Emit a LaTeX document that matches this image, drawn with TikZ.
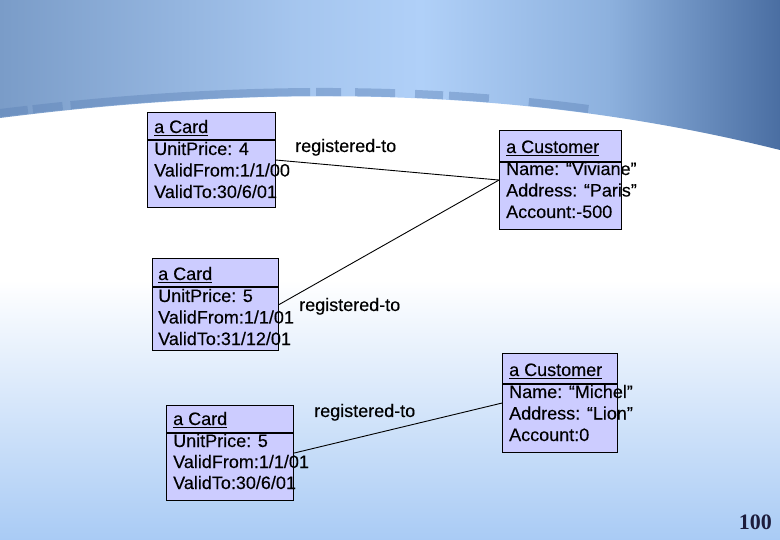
\documentclass[tikz,border=0pt]{standalone}
\usepackage{fontspec}
\setmainfont{Liberation Sans}
\newfontfamily\objfont{Liberation Sans}[FakeBold=0.25]
\newfontfamily\slidenumfont{Liberation Serif}
\usepackage{xcolor}
\usepackage{tikz}
\usetikzlibrary{positioning, calc}

\definecolor{objfill}{HTML}{CCCCFF}
\definecolor{bandleft}{HTML}{7A9CC8}
\definecolor{bandlight}{HTML}{B0D0F8}
\definecolor{bandmid}{HTML}{8DB1DE}
\definecolor{bandright}{HTML}{4A6EA2}
\definecolor{bandstripe}{HTML}{5F84B8}
\definecolor{bgbottom}{HTML}{A9CBF5}
\definecolor{numcol}{HTML}{1C1C3C}

\pgfdeclarehorizontalshading{slideband}{100bp}{color(0bp)=(bandleft); color(25bp)=(bandleft);
  color(44bp)=(bandlight!80!bandleft); color(52bp)=(bandlight); color(64bp)=(bandmid);
  color(75bp)=(bandright); color(100bp)=(bandright)}

\begin{document}
\begin{tikzpicture}[x=1pt, y=-1pt,
  objbox/.style={draw=black, line width=1.1pt, fill=objfill, anchor=north west, inner sep=0pt},
  objtext/.style={anchor=base west, inner sep=0pt, font=\objfont\fontsize{18}{21.5}\selectfont},
  link/.style={draw=black, line width=0.9pt}]
  \useasboundingbox (0,0) rectangle (780,540);

  % Slide background
  \fill[white] (0,0) rectangle (780,540);
  \shade[top color=white, bottom color=bgbottom] (0,280) rectangle (780,540);
  \shade[shading=slideband]
    (0,0) -- (780,0) -- (780,150) .. controls (520,85) and (260,85) .. (0,118) -- cycle;
  \draw[bandstripe, opacity=0.45, line width=8pt,
        dash pattern=on 28pt off 5pt on 30pt off 8pt on 240pt off 6pt on 25pt off 14pt on 40pt off 20pt on 28pt off 6pt on 40pt off 40pt on 60pt off 200pt]
    (0,113) .. controls (260,81) and (520,81) .. (780,145);

  % Cards (left)
  \node[objbox, minimum width=128pt, minimum height=95pt] (card1) at (147,112) {};
  \draw[line width=1.1pt] (card1.west |- 0,140) -- (card1.east |- 0,140);
  \node[objtext] (card1-h) at (154,133) {a Card};
  \foreach \lbl [count=\i] in {{UnitPrice: 4}, {ValidFrom:1/1/00}, {ValidTo:30/6/01}}
    \node[objtext] (card1-\i) at (154,133.5+21.5*\i) {\lbl};

  \node[objbox, minimum width=126pt, minimum height=92pt] (card2) at (152,258) {};
  \draw[line width=1.1pt] (card2.west |- 0,287) -- (card2.east |- 0,287);
  \node[objtext] (card2-h) at (158,280) {a Card};
  \foreach \lbl [count=\i] in {{UnitPrice: 5}, {ValidFrom:1/1/01}, {ValidTo:31/12/01}}
    \node[objtext] (card2-\i) at (158,280.5+21.5*\i) {\lbl};

  \node[objbox, minimum width=127pt, minimum height=95pt] (card3) at (166,405) {};
  \draw[line width=1.1pt] (card3.west |- 0,433) -- (card3.east |- 0,433);
  \node[objtext] (card3-h) at (173,425) {a Card};
  \foreach \lbl [count=\i] in {{UnitPrice: 5}, {ValidFrom:1/1/01}, {ValidTo:30/6/01}}
    \node[objtext] (card3-\i) at (173,426+21*\i) {\lbl};

  % Customers (right)
  \node[objbox, minimum width=122pt, minimum height=99pt] (cust1) at (499,130) {};
  \draw[line width=1.1pt] (cust1.west |- 0,162) -- (cust1.east |- 0,162);
  \node[objtext] (cust1-h) at (506,153) {a Customer};
  \foreach \lbl [count=\i] in {{Name: “Viviane”}, {Address: “Paris”}, {Account:-500}}
    \node[objtext] (cust1-\i) at (506,153.5+21.5*\i) {\lbl};

  \node[objbox, minimum width=115pt, minimum height=99pt] (cust2) at (502,353) {};
  \draw[line width=1.1pt] (cust2.west |- 0,384) -- (cust2.east |- 0,384);
  \node[objtext] (cust2-h) at (509,376) {a Customer};
  \foreach \lbl [count=\i] in {{Name: “Michel”}, {Address: “Lion”}, {Account:0}}
    \node[objtext] (cust2-\i) at (509,376.5+21.5*\i) {\lbl};

  % underlined object names
  \foreach \n in {card1,card2,card3,cust1,cust2}
    \draw[line width=1.2pt] ([yshift=-2.5pt]\n-h.base west) -- ([yshift=-2.5pt]\n-h.base east);

  % Links
  \draw[link] (card1.east) -- (cust1.west);
  \draw[link] (card2.east) -- (cust1.west);
  \draw[link] (card3.east) -- (cust2.west);

  \node[objtext] (reg1) at (295,152) {registered-to};
  \node[objtext] (reg2) at (299,311) {registered-to};
  \node[objtext] (reg3) at (314,417) {registered-to};

  % slide number
  \node[anchor=base east, inner sep=0pt, text=numcol,
        font=\slidenumfont\bfseries\fontsize{22}{22}\selectfont] (pagenum) at (772,529) {100};
\end{tikzpicture}
\end{document}
